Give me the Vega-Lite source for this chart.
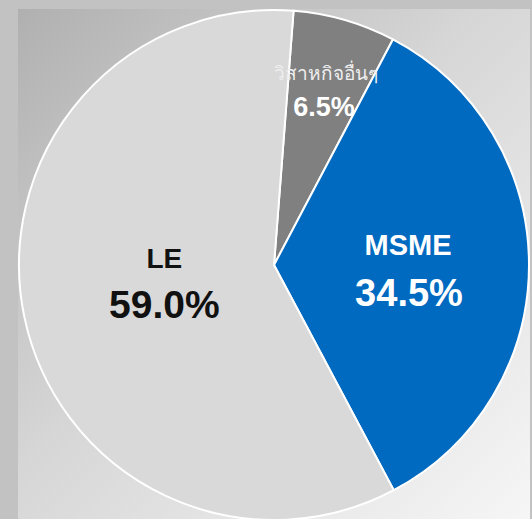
{
  "$schema": "https://vega.github.io/schema/vega-lite/v6.json",
  "width": 512,
  "height": 512,
  "padding": {"left": 15, "top": 6, "right": 5, "bottom": 1},
  "autosize": {"type": "pad"},
  "background": "#c2c2c2",
  "view": {"stroke": null},
  "data": {"values": [
    {"segment": "วิสาหกิจอื่นๆ", "share": 6.5, "label": "6.5%", "order": 1},
    {"segment": "MSME", "share": 34.5, "label": "34.5%", "order": 2},
    {"segment": "LE", "share": 59.0, "label": "59.0%", "order": 3}
  ]},
  "layer": [
    {
      "data": {"values": [{"bg": "backdrop"}]},
      "mark": {"type": "rect", "fill": {"gradient": "linear", "x1": 0, "y1": 0, "x2": 1, "y2": 1, "stops": [{"offset": 0, "color": "#b0b0b0"}, {"offset": 0.45, "color": "#d6d6d6"}, {"offset": 1, "color": "#f6f6f6"}]}},
      "encoding": {}
    },
    {
      "encoding": {
        "theta": {"field": "share", "type": "quantitative", "stack": true, "scale": {"range": [0.0768, 6.3600]}},
        "order": {"field": "order", "type": "quantitative"}
      },
      "layer": [
        {
          "mark": {"type": "arc", "outerRadius": 255, "stroke": "#ffffff", "strokeWidth": 2},
          "encoding": {
            "color": {"field": "segment", "type": "nominal", "legend": null,
              "scale": {"domain": ["วิสาหกิจอื่นๆ", "MSME", "LE"], "range": ["#808080", "#0069c0", "#d9d9d9"]}}
          }
        },
        {
          "mark": {"type": "text", "radius": 180, "dx": 2, "dy": -12, "fontSize": 19, "font": "Noto Sans, DejaVu Sans, sans-serif", "fill": "#eeeeee", "align": "center", "baseline": "alphabetic"},
          "encoding": {"text": {"condition": {"test": "datum.order === 1", "field": "segment"}, "value": ""}}
        },
        {
          "mark": {"type": "text", "radius": 180, "dx": 0, "dy": 24, "fontSize": 27, "fontWeight": "bold", "font": "Liberation Sans, Arial, sans-serif", "fill": "#ffffff", "align": "center", "baseline": "alphabetic"},
          "encoding": {"text": {"condition": {"test": "datum.order === 1", "field": "label"}, "value": ""}}
        },
        {
          "mark": {"type": "text", "radius": 137, "dx": -3, "dy": -10, "fontSize": 29, "fontWeight": "bold", "font": "Liberation Sans, Arial, sans-serif", "fill": "#ffffff", "align": "center", "baseline": "alphabetic"},
          "encoding": {"text": {"condition": {"test": "datum.order === 2", "field": "segment"}, "value": ""}}
        },
        {
          "mark": {"type": "text", "radius": 137, "dx": -2, "dy": 41, "fontSize": 38, "fontWeight": "bold", "font": "Liberation Sans, Arial, sans-serif", "fill": "#ffffff", "align": "center", "baseline": "alphabetic"},
          "encoding": {"text": {"condition": {"test": "datum.order === 2", "field": "label"}, "value": ""}}
        },
        {
          "mark": {"type": "text", "radius": 110, "dx": -2, "dy": -19.5, "fontSize": 28, "fontWeight": "bold", "font": "Liberation Sans, Arial, sans-serif", "fill": "#111111", "align": "center", "baseline": "alphabetic"},
          "encoding": {"text": {"condition": {"test": "datum.order === 3", "field": "segment"}, "value": ""}}
        },
        {
          "mark": {"type": "text", "radius": 110, "dx": -2, "dy": 30.5, "fontSize": 39, "fontWeight": "bold", "font": "Liberation Sans, Arial, sans-serif", "fill": "#111111", "align": "center", "baseline": "alphabetic"},
          "encoding": {"text": {"condition": {"test": "datum.order === 3", "field": "label"}, "value": ""}}
        }
      ]
    }
  ]
}
